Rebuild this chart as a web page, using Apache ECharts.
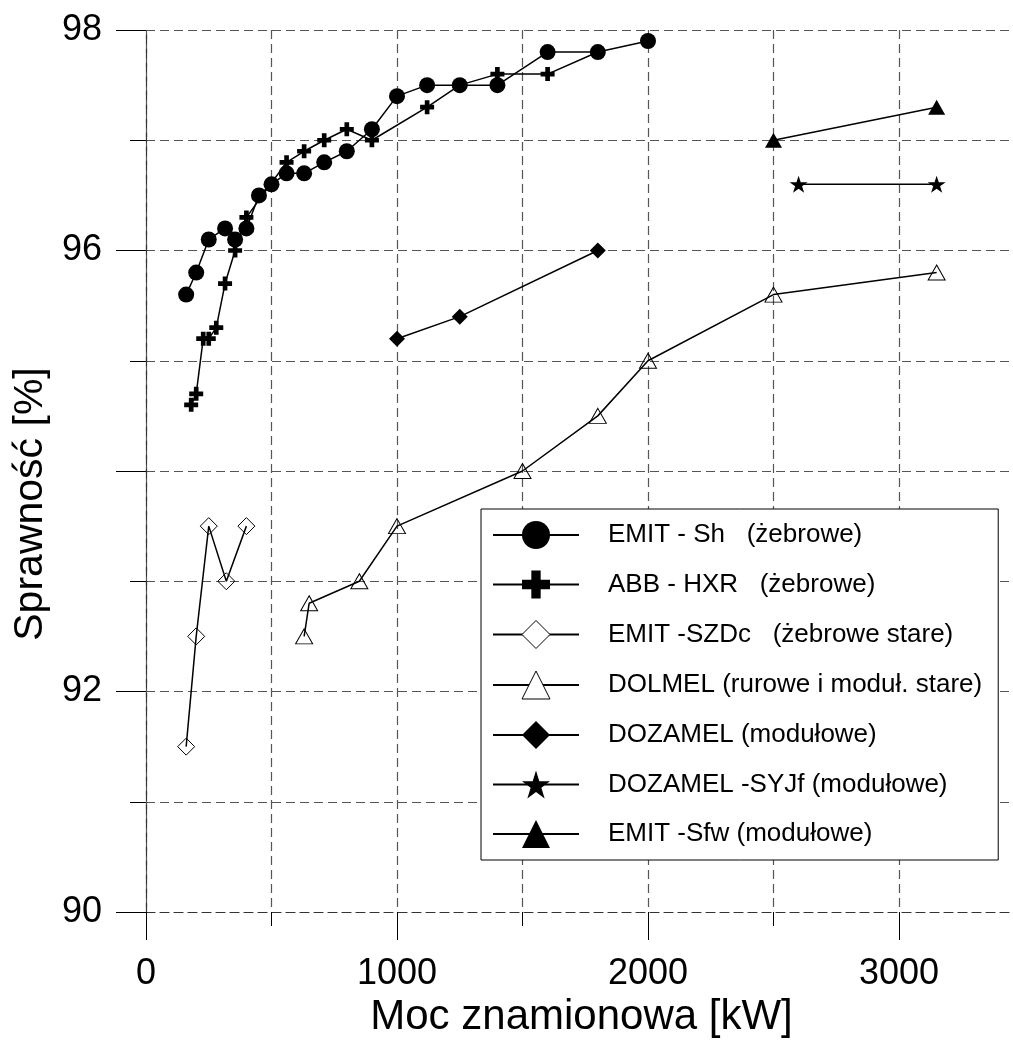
<!DOCTYPE html>
<html>
<head>
<meta charset="utf-8">
<script src="https://cdn.jsdelivr.net/npm/echarts@6/dist/echarts.min.js"></script>
<style>
    html, body { margin: 0; padding: 0; background: #fff; overflow: hidden; }
    /* wider than the window: the 3500..4000 strip stays off screen */
    #chart { width: 1153px; height: 1045px; }
</style>
</head>
<body>
<div id="chart"></div>
<script>
// moc [kW] i sprawnosc [%]
let shKw = [160, 200, 250, 315, 355, 400, 450, 500, 560, 630, 710, 800, 900, 1000, 1120, 1250, 1400, 1600, 1800, 2000];
let shEff = [95.6, 95.8, 96.1, 96.2, 96.1, 96.2, 96.5, 96.6, 96.7, 96.7, 96.8, 96.9, 97.1, 97.4, 97.5, 97.5, 97.5, 97.8, 97.8, 97.9];

let hxrKw = [180, 200, 228, 250, 280, 315, 355, 400, 560, 630, 710, 800, 900, 1120, 1250, 1400, 1600, 1800];
let hxrEff = [94.6, 94.7, 95.2, 95.2, 95.3, 95.7, 96.0, 96.3, 96.8, 96.9, 97.0, 97.1, 97.0, 97.3, 97.5, 97.6, 97.6, 97.8];

let szdcKw = [160, 200, 250, 320, 400];
let szdcEff = [91.5, 92.5, 93.5, 93.0, 93.5];

let dolmelKw = [630, 650, 850, 1000, 1500, 1800, 2000, 2500, 3150];
let dolmelEff = [92.5, 92.8, 93.0, 93.5, 94.0, 94.5, 95.0, 95.6, 95.8];

let dozamelKw = [1000, 1250, 1800];
let dozamelEff = [95.2, 95.4, 96.0];

let syjfKw = [2600, 3150];
let syjfEff = [96.6, 96.6];

let sfwKw = [2500, 3150];
let sfwEff = [97.0, 97.3];

let names = [
    'EMIT - Sh   (żebrowe)',
    'ABB - HXR   (żebrowe)',
    'EMIT -SZDc   (żebrowe stare)',
    'DOLMEL (rurowe i moduł. stare)',
    'DOZAMEL (modułowe)',
    'DOZAMEL -SYJf (modułowe)',
    'EMIT -Sfw (modułowe)'
];

let font = "'Liberation Sans', Arial, sans-serif";
let plus = 'path://M4,0 H8 V4 H12 V8 H8 V12 H4 V8 H0 V4 H4 Z';
let star = 'path://M100,0 L122.45,69.1 L195.1,69.1 L136.3,111.8 L158.8,180.9 L100,138.2 L41.2,180.9 L63.7,111.8 L4.9,69.1 L77.55,69.1 Z';

function pairs(xs, ys) {
    let res = [];
    for (let i = 0; i < xs.length; i++) {
        res.push([xs[i], ys[i]]);
    }
    return res;
}

function line(name, xs, ys, symbol, size, open) {
    return {
        name: name,
        type: 'line',
        data: pairs(xs, ys),
        symbol: symbol,
        symbolSize: size,
        showAllSymbol: true,
        lineStyle: { color: '#000', width: 1.5 },
        itemStyle: open
            ? { color: 'rgba(0,0,0,0)', borderColor: '#000', borderWidth: 1 }
            : { color: '#000', borderWidth: 0 },
        emphasis: { disabled: true },
        animation: false
    };
}

let dash = { color: '#555', type: [9, 5], width: 1.2 };

let $e = echarts.init(document.getElementById('chart'));
let option = {
    backgroundColor: '#fff',
    grid: { left: 146, top: 30, bottom: 133, right: 0, containLabel: false },
    xAxis: {
        type: 'value',
        min: 0,
        max: 4000,
        interval: 1000,
        axisLine: { show: true, onZero: false, lineStyle: { color: '#333', type: [9, 5], width: 1.2 } },
        axisTick: { show: true, length: 28, lineStyle: { color: '#000', width: 1 } },
        minorTick: { show: true, splitNumber: 2, length: 14, lineStyle: { color: '#000', width: 1 } },
        splitLine: { show: true, lineStyle: dash },
        minorSplitLine: { show: true, lineStyle: dash },
        axisLabel: {
            margin: 44, fontSize: 36, color: '#000', fontFamily: font,
            formatter: function (v) { return v > 3000 ? '' : String(v); }
        },
        name: 'Moc znamionowa [kW]',
        nameLocation: 'middle',
        nameGap: 84,
        nameTextStyle: { fontSize: 42, color: '#000', fontFamily: font, padding: [0, 133, 0, 0] }
    },
    yAxis: {
        type: 'value',
        min: 90,
        max: 98,
        interval: 2,
        axisLine: { show: true, lineStyle: { color: '#333', type: [9, 5], width: 1.2 } },
        axisTick: { show: true, length: 30, lineStyle: { color: '#000', width: 1 } },
        minorTick: { show: true, splitNumber: 2, length: 16, lineStyle: { color: '#000', width: 1 } },
        splitLine: { show: true, lineStyle: dash },
        minorSplitLine: { show: true, lineStyle: dash },
        axisLabel: {
            margin: 44, fontSize: 36, color: '#000', fontFamily: font,
            formatter: function (v) { return v === 94 ? '' : String(v); }
        },
        name: 'Sprawność [%]',
        nameLocation: 'middle',
        nameGap: 91,
        nameTextStyle: { fontSize: 41, color: '#000', fontFamily: font, padding: [0, 66, 0, 0] }
    },
    legend: {
        orient: 'vertical',
        left: 481,
        top: 509,
        padding: [12, 16, 12, 11],
        itemWidth: 86,
        itemHeight: 35,
        itemGap: 21.5,
        backgroundColor: '#fff',
        borderColor: '#000',
        borderWidth: 1,
        borderRadius: 0,
        selectedMode: false,
        textStyle: { fontSize: 26, color: '#000', fontFamily: font, padding: [0, 0, 0, 24] },
        data: names.map(function (n, i) {
            if (i === 2 || i === 3) {
                return { name: n, itemStyle: { color: '#fff', borderColor: '#000', borderWidth: 1 } };
            }
            return { name: n };
        })
    },
    series: [
        line(names[0], shKw, shEff, 'circle', 16, false),
        line(names[1], hxrKw, hxrEff, plus, 14, false),
        line(names[2], szdcKw, szdcEff, 'diamond', 17, true),
        line(names[3], dolmelKw, dolmelEff, 'triangle', [17, 15], true),
        line(names[4], dozamelKw, dozamelEff, 'diamond', 16, false),
        line(names[5], syjfKw, syjfEff, star, [18, 17], false),
        line(names[6], sfwKw, sfwEff, 'triangle', [17, 15], false)
    ]
};
$e.setOption(option);
window.onresize = function () {
    $e.resize();
};
</script>
</body>
</html>
